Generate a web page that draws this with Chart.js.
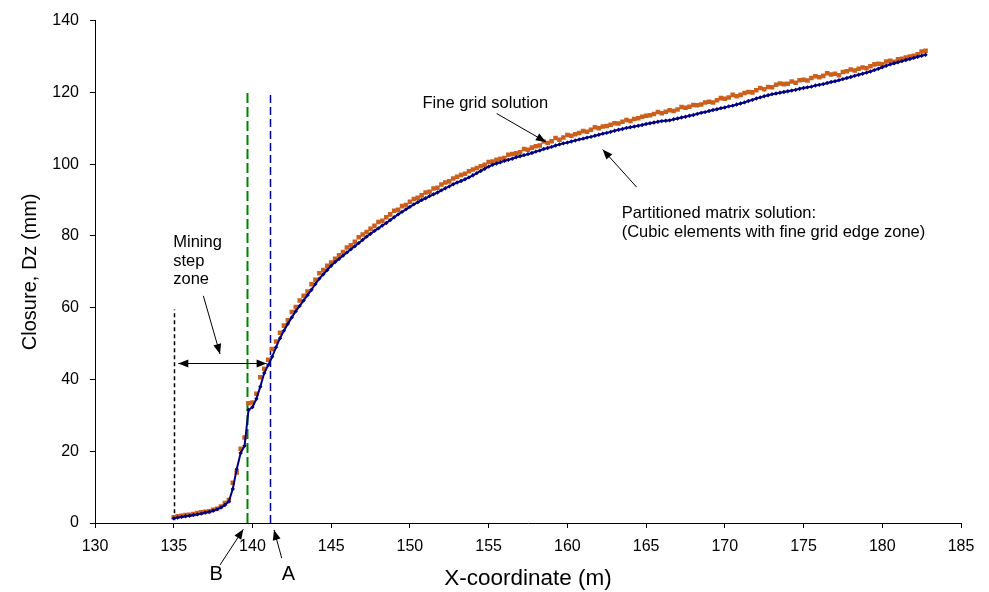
<!DOCTYPE html>
<html>
<head>
<meta charset="utf-8">
<script src="https://cdn.jsdelivr.net/npm/chart.js@4.4.1/dist/chart.umd.min.js"></script>
<style>
  html, body { margin: 0; padding: 0; background: #ffffff; }
  #wrap { width: 989px; height: 592px; position: relative; }
</style>
</head>
<body>
<div id="wrap"><canvas id="c"></canvas></div>
<script>
// ---- data ----
const xCoordinates = [
  135,135.25,135.5,135.75, 136,136.25,136.5,136.75, 137,137.25,137.5,137.75, 138,138.25,138.5,138.75,
  139,139.25,139.5,139.75, 140,140.25,140.5,140.75, 141,141.25,141.5,141.75, 142,142.25,142.5,142.75,
  143,143.25,143.5,143.75, 144,144.25,144.5,144.75, 145,145.25,145.5,145.75, 146,146.25,146.5,146.75,
  147,147.25,147.5,147.75, 148,148.25,148.5,148.75, 149,149.25,149.5,149.75, 150,150.25,150.5,150.75,
  151,151.25,151.5,151.75, 152,152.25,152.5,152.75, 153,153.25,153.5,153.75, 154,154.25,154.5,154.75,
  155,155.25,155.5,155.75, 156,156.25,156.5,156.75, 157,157.25,157.5,157.75, 158,158.25,158.5,158.75,
  159,159.25,159.5,159.75, 160,160.25,160.5,160.75, 161,161.25,161.5,161.75, 162,162.25,162.5,162.75,
  163,163.25,163.5,163.75, 164,164.25,164.5,164.75, 165,165.25,165.5,165.75, 166,166.25,166.5,166.75,
  167,167.25,167.5,167.75, 168,168.25,168.5,168.75, 169,169.25,169.5,169.75, 170,170.25,170.5,170.75,
  171,171.25,171.5,171.75, 172,172.25,172.5,172.75, 173,173.25,173.5,173.75, 174,174.25,174.5,174.75,
  175,175.25,175.5,175.75, 176,176.25,176.5,176.75, 177,177.25,177.5,177.75, 178,178.25,178.5,178.75,
  179,179.25,179.5,179.75, 180,180.25,180.5,180.75, 181,181.25,181.5,181.75, 182,182.25,182.5,182.75
];

const partitionedMatrix = [
  1.3,1.5,1.7,1.9, 2.0,2.2,2.4,2.6, 2.9,3.1,3.4,3.8, 4.3,5.0,6.0,9.5,
  15.0,19.5,21.5,31.5, 32.3,34.6,38.0,41.8, 44.0,46.3,49.0,51.5, 53.6,55.5,57.3,59.0,
  60.5,62.0,63.5,65.0, 66.6,68.1,69.3,70.5, 71.7,72.7,73.6,74.5, 75.4,76.3,77.1,78.0,
  78.9,79.8,80.6,81.4, 82.1,82.9,83.6,84.4, 85.2,86.0,86.7,87.4, 88.1,88.8,89.4,90.0,
  90.5,91.1,91.6,92.1, 92.7,93.3,93.8,94.4, 94.9,95.3,95.8,96.3, 96.9,97.5,98.1,98.7,
  99.3,99.8,100.2,100.5, 100.9,101.2,101.5,101.9, 102.2,102.5,102.8,103.1, 103.5,103.8,104.2,104.5,
  104.8,105.2,105.5,105.8, 106.0,106.3,106.6,106.9, 107.1,107.4,107.6,107.9, 108.2,108.5,108.7,109.0,
  109.3,109.6,109.8,110.1, 110.3,110.5,110.7,110.9, 111.2,111.4,111.6,111.8, 112.0,112.1,112.2,112.5,
  112.7,113.0,113.2,113.5, 113.7,114.0,114.3,114.5, 114.8,115.1,115.3,115.6, 115.8,116.1,116.3,116.6,
  116.9,117.2,117.6,117.9, 118.3,118.6,118.9,119.2, 119.5,119.7,119.9,120.1, 120.3,120.5,120.7,121.0,
  121.2,121.4,121.6,121.9, 122.1,122.3,122.6,122.9, 123.1,123.4,123.7,124.0, 124.3,124.6,124.9,125.2,
  125.5,125.8,126.2,126.6, 127.0,127.4,127.8,128.1, 128.4,128.7,129.0,129.3, 129.6,129.9,130.2,130.5
];

const fineGrid = [
  1.6,1.9,2.0,2.2, 2.3,2.5,2.8,3.0, 3.1,3.3,3.7,4.0, 4.6,5.6,6.4,11.2,
  14.1,20.7,23.8,33.4, 33.6,36.0,40.6,43.0, 45.5,48.5,50.6,53.0, 55.0,56.5,58.8,60.2,
  62.0,63.3,64.5,66.5, 67.8,69.6,70.5,71.7, 72.6,73.6,74.6,75.5, 76.8,77.4,78.4,79.6,
  80.4,81.1,82.0,82.8, 83.9,84.2,85.2,86.0, 87.0,87.3,88.3,88.6, 89.5,90.3,90.6,91.3,
  92.1,92.3,93.2,93.4, 94.3,94.9,95.2,96.0, 96.5,97.0,97.3,98.0, 98.5,98.9,99.4,99.8,
  100.6,100.7,101.2,101.5, 101.7,102.6,102.8,103.0, 103.3,104.2,104.0,104.6, 105.0,105.2,106.3,105.9,
  106.4,107.3,106.8,107.4, 108.1,107.9,108.3,108.7, 109.2,109.0,109.6,110.3, 110.0,110.5,110.6,111.0,
  111.4,111.3,111.8,112.3, 112.0,112.6,112.8,113.2, 113.5,113.6,114.0,114.5, 114.2,114.6,115.0,114.8,
  115.2,115.9,115.7,116.0, 116.5,116.4,116.6,117.2, 117.4,117.2,117.8,118.4, 118.2,118.6,119.3,118.9,
  119.3,119.8,120.1,120.0, 120.6,121.2,120.9,121.5, 121.4,122.1,122.5,122.3, 122.4,123.0,122.7,123.4,
  123.5,123.3,124.0,124.5, 124.2,124.6,125.3,125.0, 125.2,124.8,125.7,125.9, 126.4,126.1,126.6,126.9,
  126.7,127.3,127.8,128.0, 127.8,128.6,128.8,128.5, 129.2,129.4,129.7,130.0, 130.2,130.6,131.4,131.6
];

const xTickValues = [130, 135, 140, 145, 150, 155, 160, 165, 170, 175, 180, 185];
const yTickValues = [0, 20, 40, 60, 80, 100, 120, 140];

// ---- annotation content (positions in data units) ----
const vLines = [
  { x: 135.0,  y0: 0.8, y1: 59.5, color: '#000000', width: 1.5, dash: [4, 3] },
  { x: 139.63, y0: 0,   y1: 120,  color: '#008000', width: 2,   dash: [10, 4] },
  { x: 141.13, y0: 0,   y1: 120,  color: '#000099', width: 1.5, dash: [8, 4] }
];
const arrows = [
  { from: [136.88, 63.3],  to: [137.94, 47.1] },
  { from: [155.51, 114.1], to: [158.64, 106.2] },
  { from: [164.40, 93.6],  to: [162.24, 104.1] },
  { from: [137.94, -11.7], to: [139.42, -1.75] },
  { from: [141.86, -9.8],  to: [141.37, -1.94] }
];
const doubleArrow = { from: [135.29, 44.6], to: [140.9, 44.6] };
const labels = [
  { text: 'Mining', x: 134.97, y: 76.9, align: 'left', size: 16.5 },
  { text: 'step', x: 134.97, y: 71.7, align: 'left', size: 16.5 },
  { text: 'zone', x: 134.97, y: 66.6, align: 'left', size: 16.5 },
  { text: 'Fine grid solution', x: 150.8, y: 115.6, align: 'left', size: 16.5 },
  { text: 'Partitioned matrix solution:', x: 163.45, y: 84.9, align: 'left', size: 16.5 },
  { text: '(Cubic elements with fine grid edge zone)', x: 163.45, y: 79.7, align: 'left', size: 16.5 },
  { text: 'B', x: 137.69, y: -15.8, align: 'center', size: 20 },
  { text: 'A', x: 142.28, y: -15.8, align: 'center', size: 20 }
];

const FONT = "'Liberation Sans', Arial, sans-serif";

function drawArrowHead(ctx, x1, y1, x2, y2, len, half) {
  const a = Math.atan2(y2 - y1, x2 - x1);
  ctx.beginPath();
  ctx.moveTo(x2, y2);
  ctx.lineTo(x2 - len * Math.cos(a) + half * Math.sin(a), y2 - len * Math.sin(a) - half * Math.cos(a));
  ctx.lineTo(x2 - len * Math.cos(a) - half * Math.sin(a), y2 - len * Math.sin(a) + half * Math.cos(a));
  ctx.closePath();
  ctx.fill();
}

const annotPlugin = {
  id: 'annot',
  beforeDatasetsDraw(chart) {
    const ctx = chart.ctx, sx = chart.scales.x, sy = chart.scales.y;
    ctx.save();
    vLines.forEach(l => {
      const x = Math.round(sx.getPixelForValue(l.x)) + 0.5;
      ctx.strokeStyle = l.color;
      ctx.lineWidth = l.width;
      ctx.setLineDash(l.dash);
      ctx.beginPath();
      ctx.moveTo(x, sy.getPixelForValue(l.y0));
      ctx.lineTo(x, sy.getPixelForValue(l.y1));
      ctx.stroke();
    });
    ctx.restore();
  },
  afterDraw(chart) {
    const ctx = chart.ctx, sx = chart.scales.x, sy = chart.scales.y;
    ctx.save();
    ctx.strokeStyle = '#000';
    ctx.fillStyle = '#000';
    ctx.lineWidth = 1;
    ctx.setLineDash([]);
    arrows.forEach(a => {
      const x1 = sx.getPixelForValue(a.from[0]), y1 = sy.getPixelForValue(a.from[1]);
      const x2 = sx.getPixelForValue(a.to[0]), y2 = sy.getPixelForValue(a.to[1]);
      ctx.beginPath(); ctx.moveTo(x1, y1); ctx.lineTo(x2, y2); ctx.stroke();
      drawArrowHead(ctx, x1, y1, x2, y2, 10, 4);
    });
    {
      const x1 = sx.getPixelForValue(doubleArrow.from[0]), y1 = Math.round(sy.getPixelForValue(doubleArrow.from[1])) + 0.5;
      const x2 = sx.getPixelForValue(doubleArrow.to[0]), y2 = y1;
      ctx.beginPath(); ctx.moveTo(x1, y1); ctx.lineTo(x2, y2); ctx.stroke();
      drawArrowHead(ctx, x1, y1, x2, y2, 10, 4);
      drawArrowHead(ctx, x2, y2, x1, y1, 10, 4);
    }
    ctx.textBaseline = 'alphabetic';
    labels.forEach(t => {
      ctx.font = t.size + 'px ' + FONT;
      ctx.textAlign = t.align;
      ctx.fillText(t.text, sx.getPixelForValue(t.x), sy.getPixelForValue(t.y));
    });
    ctx.restore();
  }
};

const toPoints = arr => xCoordinates.map((x, i) => ({ x: x, y: arr[i] }));

new Chart(document.getElementById('c'), {
  type: 'scatter',
  data: {
    datasets: [
      {
        label: 'Partitioned matrix solution',
        data: toPoints(partitionedMatrix),
        showLine: true,
        borderColor: '#000080',
        backgroundColor: '#000080',
        borderWidth: 2,
        pointStyle: 'rectRot',
        pointRadius: 2.2,
        pointBorderWidth: 0,
        order: 0
      },
      {
        label: 'Fine grid solution',
        data: toPoints(fineGrid),
        showLine: false,
        borderColor: '#CC5F1C',
        backgroundColor: '#CC5F1C',
        pointStyle: 'rect',
        pointRadius: 3.2,
        pointBorderWidth: 0,
        order: 1
      }
    ]
  },
  options: {
    responsive: true,
    maintainAspectRatio: false,
    animation: false,
    devicePixelRatio: 1,
    layout: { padding: { top: 19, right: 28, bottom: 0, left: 0 } },
    plugins: { legend: { display: false }, tooltip: { enabled: false } },
    scales: {
      x: {
        type: 'linear',
        min: 130, max: 185,
        afterBuildTicks: s => { s.ticks = xTickValues.map(v => ({ value: v })); },
        afterFit: s => { s.height = 69; },
        ticks: { color: '#000', font: { family: FONT, size: 16 }, padding: 9, maxRotation: 0 },
        grid: { drawOnChartArea: false, drawTicks: true, tickLength: 5, color: '#000', lineWidth: 1 },
        border: { display: true, color: '#000', width: 1 },
        title: { display: true, text: 'X-coordinate (m)', color: '#000', font: { family: FONT, size: 22.5 }, padding: { top: 0, bottom: 0 } }
      },
      y: {
        type: 'linear',
        min: 0, max: 140,
        afterBuildTicks: s => { s.ticks = yTickValues.map(v => ({ value: v })); },
        afterFit: s => { s.width = 95; },
        ticks: { color: '#000', font: { family: FONT, size: 16 }, padding: 11 },
        grid: { drawOnChartArea: false, drawTicks: true, tickLength: 5, color: '#000', lineWidth: 1 },
        border: { display: true, color: '#000', width: 1 },
        title: { display: true, text: 'Closure, Dz (mm)', color: '#000', font: { family: FONT, size: 20 }, padding: { top: 18, bottom: 0 } }
      }
    }
  },
  plugins: [annotPlugin]
});
</script>
</body>
</html>
